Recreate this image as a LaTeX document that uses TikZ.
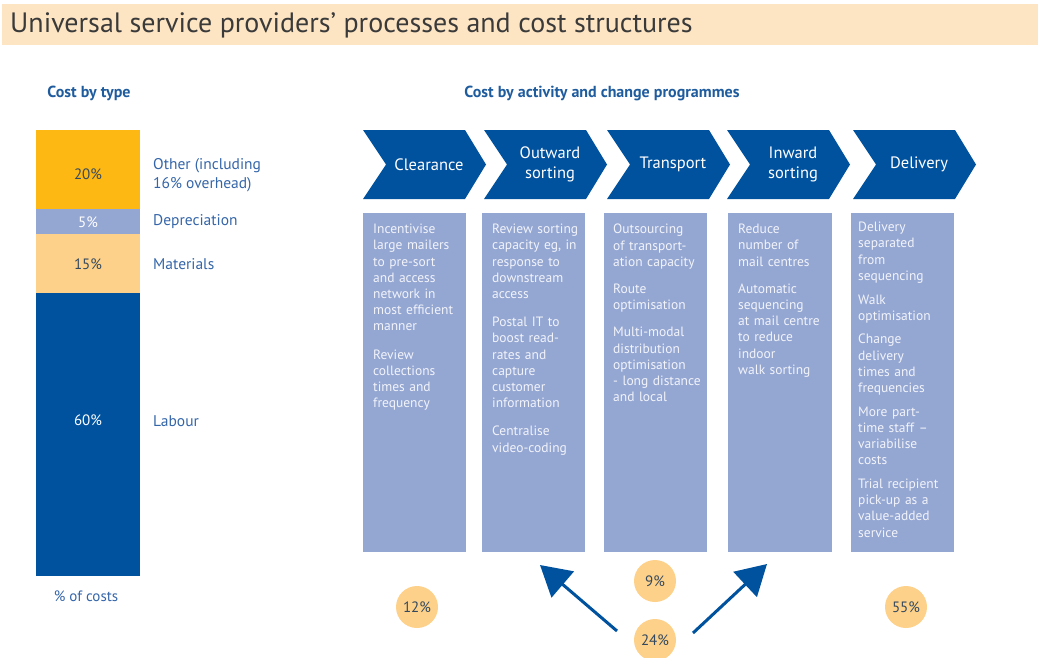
\documentclass[tikz,border=0pt]{standalone}
\usepackage{fontspec}
\setmainfont{PT Sans}
\usetikzlibrary{arrows.meta}
\definecolor{titlebg}{HTML}{FDE5C3}
\definecolor{titletext}{HTML}{3A3A3A}
\definecolor{orangeseg}{HTML}{FDB813}
\definecolor{lav}{HTML}{94A6D2}
\definecolor{peach}{HTML}{FDD18A}
\definecolor{dblue}{HTML}{00529F}
\definecolor{headblue}{HTML}{1F5C9E}
\definecolor{lblue}{HTML}{3465A8}
\definecolor{darktext}{HTML}{34495E}
\definecolor{boxtext}{HTML}{F2F4FA}
\begin{document}
\begin{tikzpicture}[x=1pt,y=-1pt,
  heading/.style={font=\bfseries\fontsize{16}{18}\selectfont, text=headblue, inner sep=0pt},
  typelabel/.style={anchor=west, font=\fontsize{15.5}{19}\selectfont, text=lblue, inner sep=0pt, align=left},
  pct/.style={font=\fontsize{15}{17}\selectfont, inner sep=0pt},
  chev/.style={fill=dblue},
  chevlabel/.style={font=\fontsize{16.5}{19.5}\selectfont, text=white, align=center, inner sep=0pt},
  progbox/.style={fill=lav},
  progtext/.style={anchor=north west, font=\fontsize{13.5}{16.2}\selectfont, text=boxtext, align=left, inner sep=0pt, text width=100pt},
  circ/.style={circle, fill=peach, minimum size=42pt, inner sep=0pt, font=\fontsize{15}{17}\selectfont, text=darktext},
  bigarrow/.style={draw=dblue, line width=3pt, -{Triangle[length=30pt,width=34pt]}}
]
\useasboundingbox (0,0) rectangle (1038,657);
% title
\fill[titlebg] (2,4) rectangle (1038,45);
\node[anchor=west, font=\fontsize{28}{32}\selectfont, text=titletext, inner sep=0pt] (title) at (10,25) {Universal service providers’ processes and cost structures};

% left column
\node[heading] (costtype) at (89,93) {Cost by type};
\fill[orangeseg] (36,130) rectangle (140,209);
\fill[lav] (36,209) rectangle (140,234);
\fill[peach] (36,234) rectangle (140,293);
\fill[dblue] (36,293) rectangle (140,576);
\node[pct, text=darktext] (p20) at (88,174) {20\%};
\node[pct, text=white] (p5) at (88,222) {5\%};
\node[pct, text=darktext] (p15) at (88,264) {15\%};
\node[pct, text=white] (p60) at (88,420) {60\%};
\node[typelabel] (lother) at (153,175) {Other (including\\16\% overhead)};
\node[typelabel] (ldep) at (153,222) {Depreciation};
\node[typelabel] (lmat) at (153,264) {Materials};
\node[typelabel] (llab) at (153,421) {Labour};
\node[font=\fontsize{15}{17}\selectfont, text=lblue, inner sep=0pt] (pcosts) at (86,596) {\% of costs};

% right heading
\node[heading] (costact) at (602,93) {Cost by activity and change programmes};

% chevrons
\foreach \L/\name/\txt in {363/clear/Clearance, 484/outw/Outward\\sorting, 607/trans/Transport, 727/inw/Inward\\sorting, 853/deliv/Delivery}{
  \fill[chev] (\L,130) -- (\L+102,130) -- (\L+123,164.5) -- (\L+102,199) -- (\L,199) -- (\L+23,164.5) -- cycle;
  \node[chevlabel] (\name) at (\L+66,164.5) {\txt};
}

% boxes
\fill[progbox] (363,213) rectangle (466,552);
\fill[progbox] (482,213) rectangle (585,552);
\fill[progbox] (604,213) rectangle (707,552);
\fill[progbox] (728,213) rectangle (832,552);
\fill[progbox] (851,213) rectangle (954,552);

\node[progtext] (t1) at (373,224) {Incentivise\\large mailers\\to pre-sort\\and access\\network in\\most efficient\\manner\\[12pt]Review\\collections\\times and\\frequency};
\node[progtext] (t2) at (492,224) {Review sorting\\capacity eg, in\\response to\\downstream\\access\\[12pt]Postal IT to\\boost read-\\rates and\\capture\\customer\\information\\[12pt]Centralise\\video-coding};
\node[progtext] (t3) at (613,224) {Outsourcing\\of transport-\\ation capacity\\[11pt]Route\\optimisation\\[11pt]Multi-modal\\distribution\\optimisation\\- long distance\\and local};
\node[progtext] (t4) at (738,224) {Reduce\\number of\\mail centres\\[11pt]Automatic\\sequencing\\at mail centre\\to reduce\\indoor\\walk sorting};
\node[progtext] (t5) at (858,222) {Delivery\\separated\\from\\sequencing\\[7.5pt]Walk\\optimisation\\[7.5pt]Change\\delivery\\times and\\frequencies\\[7.5pt]More part-\\time staff –\\variabilise\\costs\\[7.5pt]Trial recipient\\pick-up as a\\value-added\\service};

% circles
\node[circ] (c12) at (417,607) {12\%};
\node[circ] (c9) at (655,581) {9\%};
\node[circ] (c24) at (655,640) {24\%};
\node[circ] (c55) at (906,607) {55\%};

% arrows
\coordinate (a1s) at (617,631);
\coordinate (a1e) at (540,565);
\coordinate (a2s) at (693,633);
\coordinate (a2e) at (767,564);
\draw[bigarrow] (a1s) -- (a1e);
\draw[bigarrow] (a2s) -- (a2e);
\end{tikzpicture}
\end{document}
